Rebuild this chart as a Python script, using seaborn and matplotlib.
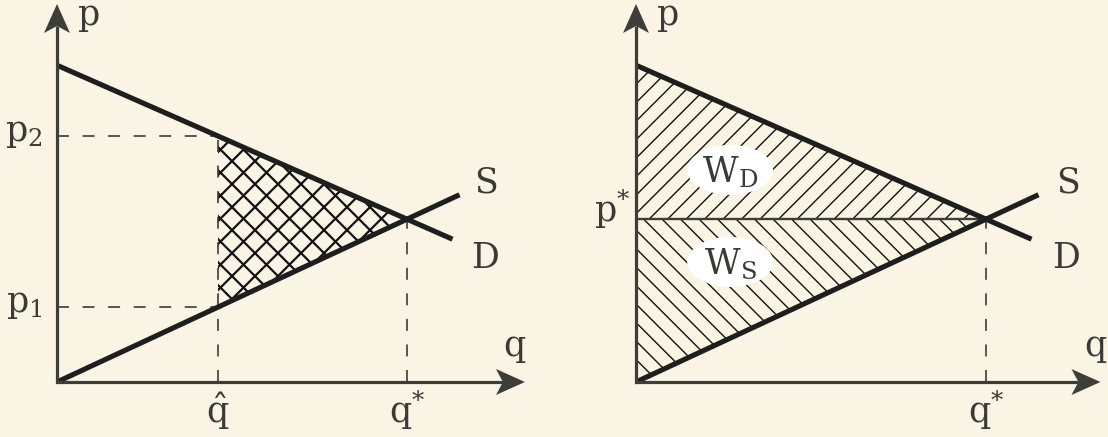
import numpy as np
import pandas as pd
import matplotlib
matplotlib.use("Agg")
import matplotlib.pyplot as plt
from matplotlib.patches import Polygon, Ellipse
import seaborn as sns

# ---------------- data ----------------
demand_q = [0.0, 11.3]
demand_p = [9.05, 4.08]
supply_q = [0.0, 11.5]
supply_p = [0.0, 5.35]
q_star = 10.0
p_star = 4.65
q_hat = 4.6
p_1 = 2.14
p_2 = 7.03
curve_names = ["D", "S"]
axis_names = [r"$\mathrm{p}$", r"$\mathrm{q}$"]
left_p_labels = [r"$\mathrm{p}_2$", r"$\mathrm{p}_1$"]
left_q_labels = [r"$\hat{\mathrm{q}}$", r"$\mathrm{q}^{*}$"]
right_p_label = r"$\mathrm{p}^{*}$"
right_q_label = r"$\mathrm{q}^{*}$"
welfare_labels = [r"$\mathrm{W}_\mathrm{D}$", r"$\mathrm{W}_\mathrm{S}$"]

# ---------------- style ----------------
sns.set_theme(style="white")
BG = "#f9f4e3"
AXC = "#3d3d3a"
TXT = "#3a3a38"
CURVE = "#1e1e1e"
plt.rcParams["font.family"] = ["DejaVu Serif"]
plt.rcParams["mathtext.fontset"] = "custom"
plt.rcParams["mathtext.rm"] = "DejaVu Serif"
plt.rcParams["mathtext.it"] = "DejaVu Serif:italic"
plt.rcParams["mathtext.bf"] = "DejaVu Serif:bold"
FS = 25

PX = 35.0  # pixels per data unit
W, H = 1108, 437
fig = plt.figure(figsize=(W / 100, H / 100), dpi=100)
fig.patch.set_facecolor(BG)

XL, YL = 13.45, 10.9


def make_ax(ox, oy):
    ax = fig.add_axes([ox / W, (H - oy) / H, XL * PX / W, YL * PX / H])
    ax.set_xlim(0, XL)
    ax.set_ylim(0, YL)
    ax.set_facecolor(BG)
    ax.axis("off")
    return ax


def draw_axes(ax, xtip, ytip):
    hl, hw, notch = 29 / PX, 13 / PX, 7 / PX
    ax.plot([0, 0, xtip - hl + notch], [ytip - hl + notch, 0, 0], color=AXC,
            lw=2.3, solid_joinstyle="miter", solid_capstyle="butt",
            clip_on=False, zorder=6)
    ax.add_patch(Polygon([(xtip, 0), (xtip - hl, hw), (xtip - hl + notch, 0),
                          (xtip - hl, -hw)], closed=True, fc=AXC, ec="none",
                         clip_on=False, zorder=6))
    ax.add_patch(Polygon([(0, ytip), (hw, ytip - hl), (0, ytip - hl + notch),
                          (-hw, ytip - hl)], closed=True, fc=AXC, ec="none",
                         clip_on=False, zorder=6))


def hatch(ax, verts, spacing_px, direction, lw, color="#111111"):
    clip = Polygon(verts, closed=True, fc="none", ec="none")
    ax.add_patch(clip)
    s = spacing_px / PX
    xs = [v[0] for v in verts]
    ys = [v[1] for v in verts]
    x0, x1 = min(xs) - 1, max(xs) + 1
    if direction > 0:
        cs = np.arange(min(ys) - max(xs) - 2, max(ys) - min(xs) + 2, s)
        for c in cs:
            ln, = ax.plot([x0, x1], [x0 + c, x1 + c], color=color, lw=lw, zorder=2)
            ln.set_clip_path(clip)
    else:
        cs = np.arange(min(ys) + min(xs) - 2, max(ys) + max(xs) + 2, s)
        for c in cs:
            ln, = ax.plot([x0, x1], [c - x0, c - x1], color=color, lw=lw, zorder=2)
            ln.set_clip_path(clip)


def curves(ax):
    df = pd.DataFrame({
        "q": demand_q + supply_q,
        "p": demand_p + supply_p,
        "curve": [curve_names[0]] * len(demand_q) + [curve_names[1]] * len(supply_q),
    })
    sns.lineplot(data=df, x="q", y="p", hue="curve", units="curve",
                 estimator=None, sort=False, legend=False,
                 palette={curve_names[0]: CURVE, curve_names[1]: CURVE},
                 linewidth=3.7, ax=ax, zorder=5)
    for l in ax.lines[-2:]:
        l.set_clip_on(False)
        l.set_solid_capstyle("butt")


def label(ax, text, xy, off, ha="left", fs=FS):
    ax.annotate(text, xy=xy, xytext=off, textcoords="offset pixels",
                ha=ha, va="baseline", fontsize=fs, color=TXT,
                annotation_clip=False, zorder=8)


dash_kw = dict(color="#333333", lw=1.15, dashes=(7.5, 8.5), zorder=3, clip_on=False)

# ---------------- left panel ----------------
axL = make_ax(57, 382)
hatch(axL, [(q_hat, p_1), (q_hat, p_2), (q_star, p_star)], 23, 1, 1.6)
hatch(axL, [(q_hat, p_1), (q_hat, p_2), (q_star, p_star)], 23, -1, 1.6)
axL.plot([0, q_hat], [p_2, p_2], **dash_kw)
axL.plot([0, q_hat], [p_1, p_1], **dash_kw)
axL.plot([q_hat, q_hat], [0, p_2], **dash_kw)
axL.plot([q_star, q_star], [0, p_star], **dash_kw)
curves(axL)
draw_axes(axL, 13.37, 10.8)
label(axL, axis_names[0], (0, 10.8), (20, -21))
label(axL, axis_names[1], (13.37, 0), (-10, 26), ha="center")
label(axL, left_p_labels[0], (0, p_2), (-14, -5), ha="right")
label(axL, left_p_labels[1], (0, p_1), (-14, -5), ha="right")
label(axL, left_q_labels[0], (q_hat, 0), (0, -41), ha="center")
label(axL, left_q_labels[1], (q_star, 0), (0, -41), ha="center")
label(axL, curve_names[1], (supply_q[-1], supply_p[-1]), (15, 2))
label(axL, curve_names[0], (demand_q[-1], demand_p[-1]), (19, -29))

# ---------------- right panel ----------------
axR = make_ax(636, 382)
hatch(axR, [(0, p_star), (0, demand_p[0]), (q_star, p_star)], 18.5, 1, 1.0)
hatch(axR, [(0, 0), (0, p_star), (q_star, p_star)], 18.5, -1, 1.0)
axR.plot([0, q_star], [p_star, p_star], color=AXC, lw=1.7, zorder=4)
axR.plot([q_star, q_star], [0, p_star], **dash_kw)
curves(axR)
draw_axes(axR, 13.27, 10.8)
for (cy, txt) in [(6.06, welfare_labels[0]), (3.43, welfare_labels[1])]:
    axR.add_patch(Ellipse((2.69, cy), 86 / PX, 50 / PX, fc="white", ec="none", zorder=7))
    label(axR, txt, (2.69, cy), (0, -12), ha="center")
label(axR, axis_names[0], (0, 10.8), (20, -21))
label(axR, axis_names[1], (13.27, 0), (-5, 26), ha="center")
label(axR, right_p_label, (0, p_star), (-6, -3), ha="right")
label(axR, right_q_label, (q_star, 0), (0, -41), ha="center")
label(axR, curve_names[1], (supply_q[-1], supply_p[-1]), (18, 2))
label(axR, curve_names[0], (demand_q[-1], demand_p[-1]), (21, -29))

fig.savefig("out.png", dpi=100, facecolor=BG)
